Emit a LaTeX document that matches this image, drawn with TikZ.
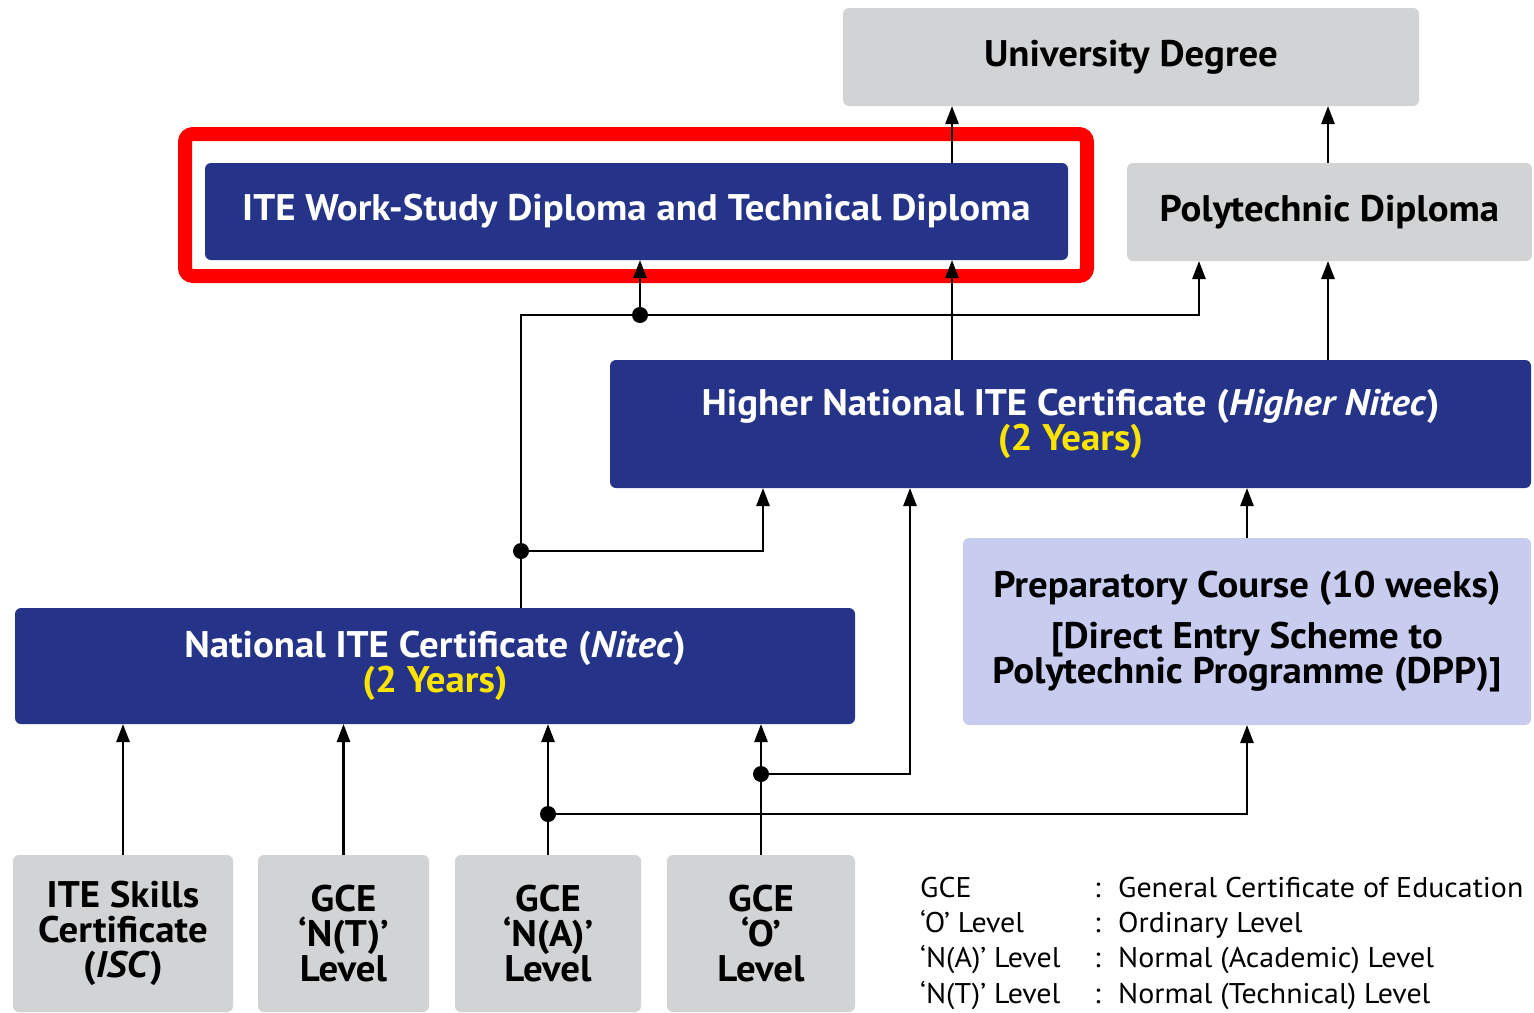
\documentclass[tikz,border=0pt]{standalone}
\usepackage{fontspec}
\setmainfont{PT Sans}[FakeStretch=1.05]
\usetikzlibrary{arrows.meta,calc}
\definecolor{navy}{RGB}{37,51,136}
\definecolor{boxgray}{RGB}{209,211,212}
\definecolor{lav}{RGB}{200,205,240}
\definecolor{yel}{RGB}{250,228,0}
\definecolor{hired}{RGB}{255,0,0}
\tikzset{
  base/.style={rectangle, rounded corners=6pt, inner sep=0pt, outer sep=0pt, align=center,
    font=\bfseries\fontsize{37}{35}\selectfont},
  navybox/.style={base, fill=navy, text=white},
  graybox/.style={base, fill=boxgray, text=black},
  lavbox/.style={base, fill=lav, text=black},
  conn/.style={line width=2.6pt, black},
  arr/.style={conn, -{Triangle[length=18pt,width=13pt]}},
  dot/.style={circle, fill=black, inner sep=0pt, minimum size=16pt},
  frame/.style={rectangle, draw=hired, line width=14pt, rounded corners=8pt, inner sep=0pt},
  legend/.style={anchor=base west, inner sep=0pt, font=\fontsize{28.5}{35}\selectfont}
}
\begin{document}
\begin{tikzpicture}[x=1pt,y=-1pt]
\useasboundingbox (0,0) rectangle (1534,1012);
% boxes
\node[graybox, minimum width=576pt, minimum height=98pt] (uni) at (1131,57) {University Degree};
\node[navybox, minimum width=863pt, minimum height=97pt] (wsd) at (636.5,211.5) {ITE Work-Study Diploma and Technical Diploma};
\node[frame, minimum width=902pt, minimum height=142pt] (hl) at (636,205) {};
\node[graybox, minimum width=405pt, minimum height=98pt] (poly) at (1329.5,212) {Polytechnic Diploma};
\node[navybox, minimum width=921pt, minimum height=128pt] (hn) at (1070.5,424)
  {Higher National ITE Certificate (\textit{Higher Nitec})\\\textcolor{yel}{(2 Years)}};
\node[lavbox, minimum width=568pt, minimum height=187pt] (prep) at (1247,631.5)
  {Preparatory Course (10 weeks)\\[16pt]{[}Direct Entry Scheme to\\Polytechnic Programme (DPP)]};
\node[navybox, minimum width=840pt, minimum height=116pt] (nitec) at (435,666)
  {National ITE Certificate (\textit{Nitec})\\\textcolor{yel}{(2 Years)}};
\node[graybox, minimum width=220pt, minimum height=157pt] (isc) at (123,933.5) {ITE Skills\\Certificate\\(\textit{ISC})};
\node[graybox, minimum width=171pt, minimum height=157pt] (nt) at (343.5,933.5) {GCE\\‘N(T)’\\Level};
\node[graybox, minimum width=186pt, minimum height=157pt] (na) at (548,933.5) {GCE\\‘N(A)’\\Level};
\node[graybox, minimum width=188pt, minimum height=157pt] (ol) at (761,933.5) {GCE\\‘O’\\Level};
% junction coordinates
\coordinate (jNA) at (548,814);
\coordinate (jO) at (761,774);
\coordinate (nTop) at ($(nitec.north west)+(506,0)$);
\coordinate (jN) at (521,551);
\coordinate (cT) at (521,315);
\coordinate (jW) at (640,315);
\coordinate (hnT) at ($(hn.north west)+(342,0)$);
\coordinate (hnP) at ($(hn.north west)+(718,0)$);
% connectors
\draw[arr] (isc.north) -- (isc.north |- nitec.south);
\draw[arr] (nt.north) -- (nt.north |- nitec.south);
\draw[arr] (na.north) -- (na.north |- nitec.south);
\draw[arr] (ol.north) -- (ol.north |- nitec.south);
\draw[arr] (jNA) -| (prep.south);
\draw[arr] (jO) -| ($(hn.south west)+(300,0)$);
\draw[arr] (nTop) -- (cT) -| ($(poly.south west)+(72,0)$);
\draw[arr] (jN) -| ($(hn.south west)+(153,0)$);
\draw[arr] (jW) -- (jW |- wsd.south);
\draw[arr] (hnT) -- (hnT |- wsd.south);
\draw[arr] (hnT |- wsd.north) -- (hnT |- uni.south);
\draw[arr] (hnP) -- (hnP |- poly.south);
\draw[arr] (hnP |- poly.north) -- (hnP |- uni.south);
\draw[arr] (prep.north) -- (prep.north |- hn.south);
% dots
\node[dot] (dNA) at (jNA) {};
\node[dot] (dO) at (jO) {};
\node[dot] (dN) at (jN) {};
\node[dot] (dW) at (jW) {};
% legend
\node[legend] (l1) at (920,897) {GCE};
\node[legend] (l2) at (920,932) {‘O’ Level};
\node[legend] (l3) at (920,967) {‘N(A)’ Level};
\node[legend] (l4) at (920,1003) {‘N(T)’ Level};
\node[legend] (c1) at (1094,897) {:};
\node[legend] (c2) at (1094,932) {:};
\node[legend] (c3) at (1094,967) {:};
\node[legend] (c4) at (1094,1003) {:};
\node[legend] (e1) at (1118,897) {General Certificate of Education};
\node[legend] (e2) at (1118,932) {Ordinary Level};
\node[legend] (e3) at (1118,967) {Normal (Academic) Level};
\node[legend] (e4) at (1118,1003) {Normal (Technical) Level};
\end{tikzpicture}
\end{document}
